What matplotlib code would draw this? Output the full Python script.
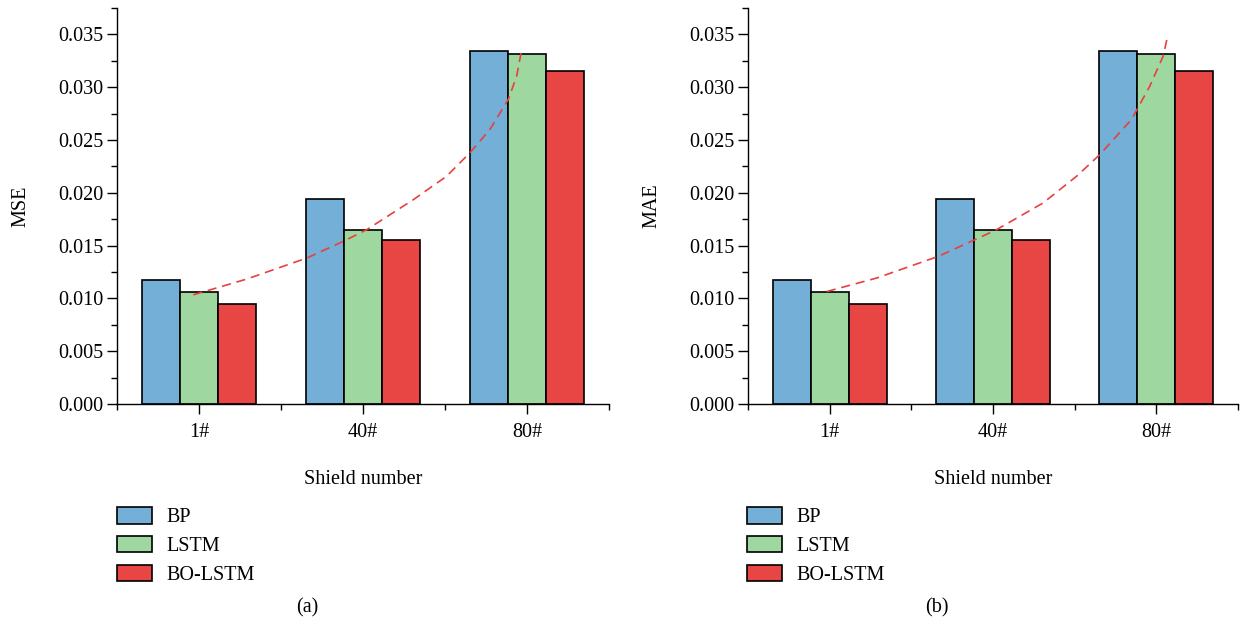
import matplotlib
matplotlib.use("Agg")
import matplotlib.pyplot as plt
import numpy as np
from matplotlib.ticker import MultipleLocator, FixedLocator

plt.rcParams['font.family'] = ['Liberation Serif', 'DejaVu Serif']

# data
shields = ['1#', '40#', '80#']
models = ['BP', 'LSTM', 'BO-LSTM']
colors = ['#74AFD7', '#9ED7A0', '#E84644']

mse_bp = [0.0117, 0.0194, 0.0334]
mse_lstm = [0.0106, 0.0165, 0.0331]
mse_bolstm = [0.0095, 0.0155, 0.0315]

mae_bp = [0.0117, 0.0194, 0.0334]
mae_lstm = [0.0106, 0.0165, 0.0331]
mae_bolstm = [0.0095, 0.0155, 0.0315]

# dashed trend curves (x in category units)
mse_trend_x = [0.965, 1.291, 1.657, 1.880, 2.023, 2.307, 2.510, 2.652, 2.774, 2.886, 2.937, 2.968]
mse_trend_y = [0.01034, 0.01183, 0.01382, 0.01540, 0.01651, 0.01935, 0.02157, 0.02379, 0.02600, 0.02884, 0.03105, 0.03359]
mae_trend_x = [0.982, 1.288, 1.665, 1.889, 2.022, 2.307, 2.512, 2.654, 2.848, 2.960, 3.042, 3.067]
mae_trend_y = [0.01065, 0.01193, 0.01398, 0.01556, 0.01651, 0.01904, 0.02157, 0.02362, 0.02694, 0.03010, 0.03295, 0.03470]

FS = 14.5


def draw_panel(ax, series, trend_x, trend_y, ylabel, tag, leg_x):
    x = np.arange(1, len(shields) + 1)
    w = 0.232
    handles = []
    for i, (vals, c) in enumerate(zip(series, colors)):
        b = ax.bar(x + (i - 1) * w, vals, width=w, color=c,
                   edgecolor='black', linewidth=1.2, label=models[i])
        handles.append(b)
    ax.plot(trend_x, trend_y, color='#E8403F', linestyle=(0, (5.5, 3.5)), linewidth=1.2)

    ax.set_xlim(0.5, 3.5)
    ax.set_ylim(0, 0.0375)
    ax.set_xticks(x)
    ax.set_xticklabels(shields)
    ax.xaxis.set_minor_locator(FixedLocator([0.5, 1.5, 2.5, 3.5]))
    ax.yaxis.set_major_locator(MultipleLocator(0.005))
    ax.yaxis.set_minor_locator(MultipleLocator(0.0025))
    ax.yaxis.set_major_formatter(matplotlib.ticker.FormatStrFormatter('%.3f'))
    ax.tick_params(axis='both', which='major', direction='out', length=7,
                   width=1.0, labelsize=FS, pad=3)
    ax.tick_params(axis='y', which='minor', direction='out', length=4, width=1.0)
    ax.tick_params(axis='x', which='minor', direction='out', length=4, width=1.0)
    ax.tick_params(axis='x', which='major', pad=7)
    for s in ['top', 'right']:
        ax.spines[s].set_visible(False)
    for s in ['left', 'bottom']:
        ax.spines[s].set_linewidth(1.0)

    ax.set_ylabel(ylabel, fontsize=FS, labelpad=20)
    ax.set_xlabel('Shield number', fontsize=FS, labelpad=20)

    fig.legend(handles=handles, loc='upper left',
               bbox_to_anchor=(leg_x, 1 - 507 / 628), frameon=False,
               fontsize=FS, handlelength=1.75, handleheight=0.9,
               handletextpad=0.7, labelspacing=0.42, borderpad=0,
               borderaxespad=0)
    fig.text(tag[0], tag[1], tag[2], fontsize=FS, ha='center', va='center')


fig = plt.figure(figsize=(12.45, 6.28), dpi=100)
ax1 = fig.add_axes([117 / 1245, 1 - 404 / 628, 492 / 1245, 396 / 628])
ax2 = fig.add_axes([748 / 1245, 1 - 404 / 628, 490 / 1245, 396 / 628])

draw_panel(ax1, [mse_bp, mse_lstm, mse_bolstm], mse_trend_x, mse_trend_y,
           'MSE', (307 / 1245, 1 - 608 / 628, '(a)'), 117 / 1245)
draw_panel(ax2, [mae_bp, mae_lstm, mae_bolstm], mae_trend_x, mae_trend_y,
           'MAE', (937 / 1245, 1 - 608 / 628, '(b)'), 747 / 1245)

fig.savefig('out.png', dpi=100)
